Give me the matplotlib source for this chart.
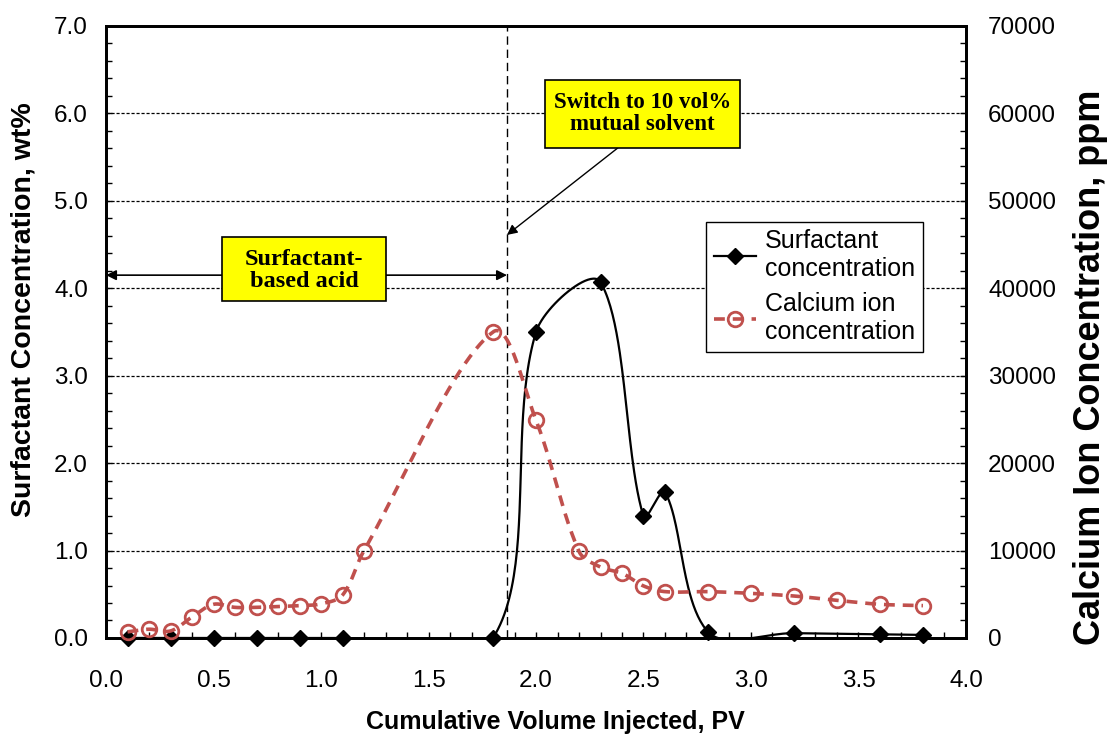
import numpy as np
import matplotlib
matplotlib.use("Agg")
import matplotlib.pyplot as plt
from matplotlib.lines import Line2D
from matplotlib.patches import Rectangle
from matplotlib.ticker import MultipleLocator

# surfactant concentration, wt%
surf_pv = [0.1, 0.3, 0.5, 0.7, 0.9, 1.1, 1.8, 2.0, 2.3, 2.5, 2.6, 2.8, 3.2, 3.6, 3.8]
surf_wt = [0, 0, 0, 0, 0, 0, 0, 3.5, 4.07, 1.39, 1.67, 0.07, 0.055, 0.042, 0.035]

# calcium ion concentration, ppm
ca_pv = [0.1, 0.2, 0.3, 0.4, 0.5, 0.6, 0.7, 0.8, 0.9, 1.0, 1.1, 1.2, 1.8, 2.0,
         2.2, 2.3, 2.4, 2.5, 2.6, 2.8, 3.0, 3.2, 3.4, 3.6, 3.8]
ca_ppm = [700, 1000, 800, 2400, 3850, 3500, 3500, 3600, 3700, 3900, 4900, 10000,
          35000, 24900, 9900, 8100, 7400, 5950, 5300, 5300, 5100, 4800, 4300, 3850, 3700]

switch_pv = 1.865

red = "#C0504D"


# smoothed line through the points, tangents scaled by chord length (in pixel units)
def smooth(xs, ys, sx, sy, n=50):
    p = np.column_stack([np.asarray(xs) * sx, np.asarray(ys) * sy]).astype(float)
    out = []
    for i in range(len(p) - 1):
        p0 = p[i - 1] if i > 0 else p[i]
        p1 = p[i]
        p2 = p[i + 1]
        p3 = p[i + 2] if i + 2 < len(p) else p[i + 1]
        d01 = np.hypot(*(p1 - p0))
        d12 = np.hypot(*(p2 - p1))
        d23 = np.hypot(*(p3 - p2))
        f1 = d12 / (d01 + d12) / 3 if d01 + d12 > 0 else 0
        f2 = d12 / (d12 + d23) / 3 if d12 + d23 > 0 else 0
        b1 = p1 + (p2 - p0) * f1
        b2 = p2 - (p3 - p1) * f2
        t = np.linspace(0, 1, n)[:, None]
        seg = (1 - t)**3 * p1 + 3 * (1 - t)**2 * t * b1 + 3 * (1 - t) * t**2 * b2 + t**3 * p2
        out.append(seg)
    c = np.vstack(out)
    return c[:, 0] / sx, c[:, 1] / sy


plt.rcParams['font.family'] = ['Liberation Sans', 'DejaVu Sans']

fig = plt.figure(figsize=(11.07, 7.36), dpi=100)
ax = fig.add_axes([0.0958, 0.1332, 0.7768, 0.8315])
ax2 = ax.twinx()

# surfactant
lx, ly = smooth(surf_pv, surf_wt, 215, 87.4)
ax.plot(lx, ly, color="black", lw=1.6, zorder=3)
ax.plot(surf_pv, surf_wt, ls="none", marker="D", ms=8.5, color="black", clip_on=False, zorder=4)

# calcium
cx, cy = smooth(ca_pv, ca_ppm, 215, 87.4 / 10000)
ax2.plot(cx, cy, color=red, lw=2.6, dashes=(3, 2.2), zorder=3)
ax2.plot(ca_pv, ca_ppm, ls="none", marker="o", ms=10.5, mfc="none", mec=red, mew=2.0,
         clip_on=False, zorder=4)

ax.set_xlim(0, 4)
ax.set_ylim(0, 7)
ax2.set_ylim(0, 70000)

for y in range(1, 7):
    ax.axhline(y, color="black", lw=0.9, ls=(0, (2.5, 1.5)), zorder=1)
ax.axvline(switch_pv, color="black", lw=1.0, ls=(0, (6, 3.5)), zorder=2)

ax.xaxis.set_major_locator(MultipleLocator(0.5))
ax.xaxis.set_minor_locator(MultipleLocator(0.1))
ax.yaxis.set_major_locator(MultipleLocator(1.0))
ax.yaxis.set_minor_locator(MultipleLocator(0.2))
ax2.yaxis.set_major_locator(MultipleLocator(10000))
ax2.yaxis.set_minor_locator(MultipleLocator(2000))
ax.xaxis.set_major_formatter(lambda v, p: f"{v:.1f}")
ax.yaxis.set_major_formatter(lambda v, p: f"{v:.1f}")

ax.tick_params(axis="x", which="both", direction="in", length=4, width=1, labelsize=17.5, pad=23)
ax.tick_params(axis="y", which="both", direction="in", length=4, width=1, labelsize=17.5, pad=13)
ax2.tick_params(axis="y", which="both", direction="in", length=4, width=1, labelsize=17.5, pad=16)
for a in (ax, ax2):
    for s in a.spines.values():
        s.set_linewidth(2.0)

# axis titles
fig.text(555 / 1107, 1 - 722 / 736, "Cumulative Volume Injected, PV", ha="center", va="center",
         fontsize=18, fontweight="bold")
fig.text(24 / 1107, 1 - 310 / 736, "Surfactant Concentration, wt%", ha="center", va="center",
         rotation=90, fontsize=20.5, fontweight="bold")
fig.text(1091 / 1107, 1 - 367 / 736, "Calcium Ion Concentration, ppm", ha="center", va="center",
         rotation=90, fontsize=26, fontweight="bold")

# annotations
ax2.annotate("", xy=(0, 4.15), xytext=(switch_pv, 4.15), xycoords=ax.transData,
             textcoords=ax.transData,
             arrowprops=dict(arrowstyle="<|-|>", color="black", lw=1.2, mutation_scale=15,
                             shrinkA=0, shrinkB=0))
ax2.add_patch(Rectangle((0.54, 3.856), 0.762, 0.732, transform=ax.transData,
                        fc="#FFFF00", ec="black", lw=1.2, zorder=6))
ax2.text(0.921, 4.2, "Surfactant-\nbased acid", transform=ax.transData, ha="center",
         va="center", fontsize=17.5, fontweight="bold", family="Liberation Serif",
         linespacing=1.05, zorder=7)

ax2.annotate("", xy=(switch_pv, 4.61), xytext=(2.381, 5.606), xycoords=ax.transData,
             textcoords=ax.transData,
             arrowprops=dict(arrowstyle="-|>", color="black", lw=1.0, mutation_scale=15,
                             shrinkA=0, shrinkB=0))
ax2.add_patch(Rectangle((2.042, 5.606), 0.907, 0.778, transform=ax.transData,
                        fc="#FFFF00", ec="black", lw=1.2, zorder=6))
ax2.text(2.495, 6.0, "Switch to 10 vol%\nmutual solvent", transform=ax.transData,
         ha="center", va="center", fontsize=16.5, fontweight="bold",
         family="Liberation Serif", linespacing=1.05, zorder=7)

handles = [
    Line2D([], [], color="black", lw=1.6, marker="D", ms=8.5),
    Line2D([], [], color=red, lw=2.6, dashes=(3, 2.2), marker="o", ms=10.5, mfc="none",
           mec=red, mew=2.0),
]
leg = ax2.legend(handles, ["Surfactant\nconcentration", "Calcium ion\nconcentration"],
                 loc="upper left", bbox_to_anchor=(0.698, 0.68), fontsize=18,
                 fancybox=False, framealpha=1, edgecolor="black", handlelength=1.7,
                 borderpad=0.3, labelspacing=0.45, handletextpad=0.35, borderaxespad=0)
leg.get_frame().set_linewidth(1.0)
leg.set_zorder(7)

fig.savefig("out.png", dpi=100)
